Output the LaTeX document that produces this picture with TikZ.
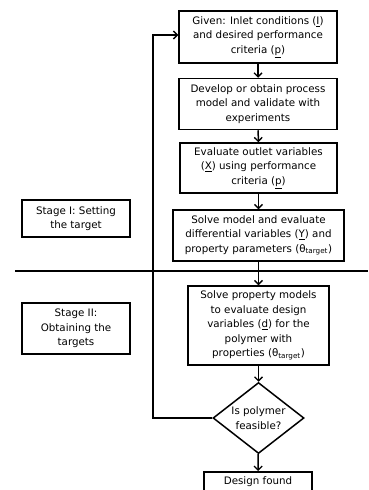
\documentclass[tikz,border=0pt]{standalone}
\usepackage{fontspec}
\setmainfont{DejaVu Sans}
\usetikzlibrary{shapes.geometric,arrows.meta}
\tikzset{
  box/.style={draw, line width=1.5pt, align=center, inner sep=1pt, font=\fontsize{10.3}{14.5}\selectfont},
  stagebox/.style={box},
  decision/.style={draw, line width=1.5pt, diamond, align=center, inner sep=0pt, font=\fontsize{10.3}{14.5}\selectfont},
  flow/.style={line width=1.5pt, -{Straight Barb[length=4pt,width=8pt,line width=1.3pt]}},
  rule/.style={line width=1.5pt}
}
\newcommand{\tgt}{θ\textsubscript{target}}
\begin{document}
\begin{tikzpicture}[x=1pt,y=-1pt]
\useasboundingbox (0,0) rectangle (368,490);
\clip (0,0) rectangle (368,490);
\node[box, minimum width=158pt, minimum height=52pt] (b1) at (258,37) {Given: Inlet conditions (\underline{I})\\and desired performance\\criteria (\underline{p})};
\node[box, minimum width=158pt, minimum height=51pt] (b2) at (258,104) {Develop or obtain process\\model and validate with\\experiments};
\node[box, minimum width=157pt, minimum height=50pt] (b3) at (258.5,168) {Evaluate outlet variables\\(\underline{X}) using performance\\criteria (\underline{p})};
\node[box, minimum width=171pt, minimum height=51pt] (b4) at (258.5,235.5) {Solve model and evaluate\\differential variables (\underline{Y}) and\\property parameters (\tgt)};
\node[box, minimum width=141pt, minimum height=79pt] (b5) at (258.5,325.5) {Solve property models\\to evaluate design\\variables (\underline{d}) for the\\polymer with\\properties (\tgt)};
\node[decision, minimum width=91pt, minimum height=71pt, aspect=1.28] (d) at (258.5,418) {Is polymer\\feasible?};
\node[box, minimum width=108pt, minimum height=20pt, anchor=north] (b6) at (258,471) {Design found};
\node[stagebox, minimum width=108pt, minimum height=37pt] (s1) at (76,218.5) {Stage I: Setting\\the target};
\node[stagebox, minimum width=108pt, minimum height=51pt] (s2) at (76,328.5) {Stage II:\\Obtaining the\\targets};
\coordinate (hl) at (15,271);
\coordinate (hr) at (368,271);
\draw[rule] (hl) -- (hr);
\draw[flow] (b1) -- (b2);
\draw[flow] (b2) -- (b3);
\draw[flow] (b3) -- (b4);
\draw[flow] (b4) -- (b5);
\draw[flow] (b5) -- (d);
\draw[flow] (d) -- (b6);
\coordinate (fb) at (153,418);
\coordinate (ft) at (153,35);
\draw[flow] (d.west) -- (fb) -- (ft) -- (ft -| b1.west);
\end{tikzpicture}
\end{document}
